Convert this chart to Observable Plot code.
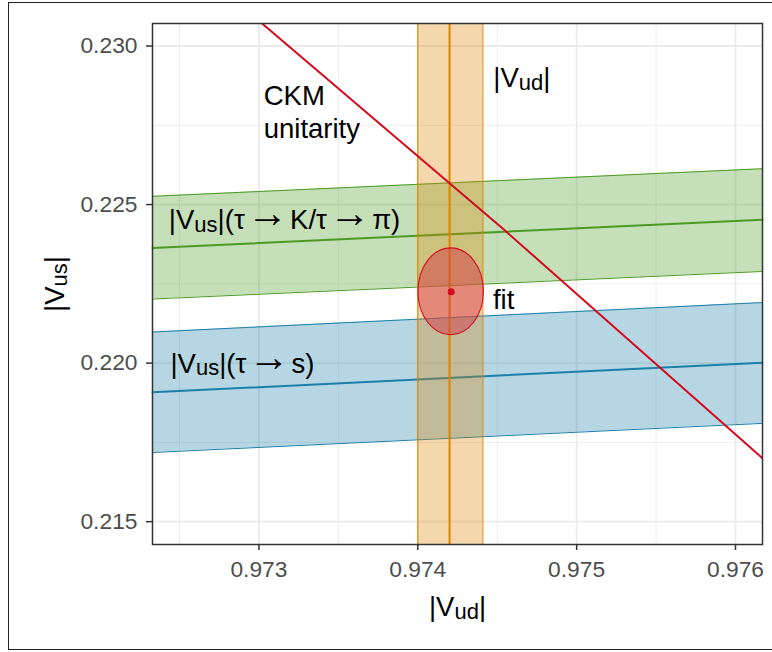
<!DOCTYPE html>
<html><head><meta charset="utf-8">
<script src="https://cdn.jsdelivr.net/npm/d3@7"></script>
<script src="https://cdn.jsdelivr.net/npm/@observablehq/plot@0.6"></script>
<style>
html,body{margin:0;padding:0;background:#fff;overflow:hidden}
#wrap{position:relative;width:772px;height:652px}
#wrap svg{position:absolute;left:0;top:0}
#frame{position:absolute;left:8px;top:2px;width:764px;height:648px;border:1.5px solid #222;border-right:none;box-sizing:border-box;pointer-events:none}
</style></head><body><div id="wrap"><div id="frame"></div></div>
<script>
// ---- data ----
const xEdges = [0.97233, 0.97617];            // |Vud| at the panel edges
const tauKpiLow  = [0.22202, 0.22289];
const tauKpiMid  = [0.22363, 0.22452];
const tauKpiHigh = [0.22526, 0.22613];
const tauSLow  = [0.21718, 0.21810];
const tauSMid  = [0.21908, 0.22001];
const tauSHigh = [0.22098, 0.22191];
const vudLow = 0.97400, vudMid = 0.97420, vudHigh = 0.97441;
const ckmVud = [0.97302, 0.97454, 0.97617];
const ckmVus = [0.23071, 0.22422, 0.21700];
const fitCenter = [0.97421, 0.22225];
const fitSemiAxes = [0.000206, 0.00137];
const xTicks = [0.973, 0.974, 0.975, 0.976];
const xMinor = [0.9725, 0.9735, 0.9745, 0.9755];
const yTicks = [0.215, 0.220, 0.225, 0.230];
const yMinor = [0.2175, 0.2225, 0.2275];

const band = (lo, mid, hi) => xEdges.map((x, i) => ({x, lo: lo[i], mid: mid[i], hi: hi[i]}));
const tauKpi = band(tauKpiLow, tauKpiMid, tauKpiHigh);
const tauS = band(tauSLow, tauSMid, tauSHigh);
const ckm = ckmVud.map((x, i) => ({x, y: ckmVus[i]}));

const blue = "#1b80a8", green = "#4c9a22", orange = "#dc8400", red = "#d40a1e";
const FS = 27.5, SUB = 3, ARROW_DROP = -2, ARROW_GAP = 2;

function ellipseMark(index, scales) {
  const x = scales.x, y = scales.y;
  const cx = x(fitCenter[0]), cy = y(fitCenter[1]);
  const rx = Math.abs(x(fitCenter[0] + fitSemiAxes[0]) - cx);
  const ry = Math.abs(y(fitCenter[1] + fitSemiAxes[1]) - cy);
  const e = document.createElementNS("http://www.w3.org/2000/svg", "ellipse");
  e.setAttribute("cx", cx); e.setAttribute("cy", cy);
  e.setAttribute("rx", rx); e.setAttribute("ry", ry);
  e.setAttribute("fill", "rgb(211,58,71)"); e.setAttribute("fill-opacity", 0.5);
  e.setAttribute("stroke", red); e.setAttribute("stroke-width", 1.1);
  return e;
}

const chart = Plot.plot({
  width: 772, height: 652,
  marginLeft: 152, marginRight: 10, marginTop: 23, marginBottom: 108,
  style: {fontFamily: "'Liberation Sans', Arial, sans-serif", background: "transparent", color: "black"},
  x: {domain: xEdges},
  y: {domain: [0.21428, 0.23071]},
  marks: [
    Plot.ruleX(xMinor, {stroke: "#ebebeb", strokeWidth: 0.9}),
    Plot.ruleY(yMinor, {stroke: "#ebebeb", strokeWidth: 0.9}),
    Plot.ruleX(xTicks, {stroke: "#ebebeb", strokeWidth: 1.8}),
    Plot.ruleY(yTicks, {stroke: "#ebebeb", strokeWidth: 1.8}),
    // tau -> s band
    Plot.areaY(tauS, {x: "x", y1: "lo", y2: "hi", fill: blue, fillOpacity: 0.32}),
    Plot.line(tauS, {x: "x", y: "lo", stroke: blue, strokeWidth: 1}),
    Plot.line(tauS, {x: "x", y: "hi", stroke: blue, strokeWidth: 1}),
    Plot.line(tauS, {x: "x", y: "mid", stroke: blue, strokeWidth: 2}),
    // tau -> K / tau -> pi band
    Plot.areaY(tauKpi, {x: "x", y1: "lo", y2: "hi", fill: green, fillOpacity: 0.32}),
    Plot.line(tauKpi, {x: "x", y: "lo", stroke: green, strokeWidth: 1}),
    Plot.line(tauKpi, {x: "x", y: "hi", stroke: green, strokeWidth: 1}),
    Plot.line(tauKpi, {x: "x", y: "mid", stroke: green, strokeWidth: 2}),
    // Vud band
    Plot.rect([{lo: vudLow, hi: vudHigh}], {x1: "lo", x2: "hi", fill: orange, fillOpacity: 0.32}),
    Plot.ruleX([vudLow, vudHigh], {stroke: orange, strokeWidth: 1}),
    Plot.ruleX([vudMid], {stroke: orange, strokeWidth: 2}),
    // fit ellipse
    ellipseMark,
    // CKM unitarity
    Plot.line(ckm, {x: "x", y: "y", stroke: red, strokeWidth: 2, clip: true}),
    Plot.dot([fitCenter], {x: d => d[0], y: d => d[1], r: 3.5, fill: red, stroke: null}),
    // annotations
    Plot.text(["CKM\nunitarity"], {x: 0.97303, y: 0.228866, textAnchor: "start", lineAnchor: "top", lineHeight: 1.2, fontSize: FS, fill: "black"}),
    Plot.text(["|V_ud|"], {x: 0.974475, y: 0.22933, textAnchor: "start", lineAnchor: "top", fontSize: FS, fill: "black"}),
    Plot.text(["|V_us|(τ→K/τ→π)"], {x: 0.972433, y: 0.224833, textAnchor: "start", lineAnchor: "top", fontSize: FS, fill: "black"}),
    Plot.text(["|V_us|(τ→s)"], {x: 0.972443, y: 0.22032, textAnchor: "start", lineAnchor: "top", fontSize: FS, fill: "black"}),
    Plot.text(["fit"], {x: 0.974473, y: 0.222316, textAnchor: "start", lineAnchor: "top", fontSize: FS, fill: "black"}),
    // axes
    Plot.axisX(xTicks, {tickFormat: ".3f", tickSize: 6, tickPadding: 10, fontSize: 22.8, fill: "#4d4d4d", stroke: "#333", strokeWidth: 1.5, label: null}),
    Plot.axisY(yTicks, {tickFormat: ".3f", tickSize: 6, tickPadding: 9, fontSize: 22.8, fill: "#4d4d4d", stroke: "#333", strokeWidth: 1.5, label: null}),
    Plot.text(["|V_ud|"], {frameAnchor: "bottom", dy: 52, textAnchor: "middle", lineAnchor: "top", fontSize: FS, fill: "black"}),
    Plot.text(["|V_us|"], {frameAnchor: "left", dx: -89, rotate: -90, textAnchor: "middle", lineAnchor: "bottom", fontSize: FS, fill: "black"}),
    Plot.frame({stroke: "#333", strokeWidth: 1.5})
  ]
});

// turn "_us" / "_ud" into subscripts and draw arrows with a longer, thin glyph
const NS = "http://www.w3.org/2000/svg";
chart.querySelectorAll("text").forEach(t => {
  if (t.querySelector("tspan")) return;
  const s = t.textContent;
  if (!s.includes("_") && !s.includes("→")) return;
  const tokens = s.split(/(_u[sd]|→)/).filter(d => d !== "");
  while (t.firstChild) t.removeChild(t.firstChild);
  let offset = 0, afterArrow = false;
  tokens.forEach(tok => {
    const ts = document.createElementNS(NS, "tspan");
    let target = 0, text = tok;
    if (afterArrow) { ts.setAttribute("dx", ARROW_GAP); afterArrow = false; }
    if (tok.startsWith("_")) {
      ts.setAttribute("font-size", "80%");
      target = SUB; text = tok.slice(1);
    } else if (tok === "→") {
      ts.setAttribute("font-size", "150%");
      ts.setAttribute("dx", ARROW_GAP);
      target = ARROW_DROP; afterArrow = true;
    }
    if (target !== offset) { ts.setAttribute("dy", target - offset); offset = target; }
    ts.textContent = text;
    t.appendChild(ts);
  });
});

document.getElementById("wrap").prepend(chart);
</script>
</body></html>
